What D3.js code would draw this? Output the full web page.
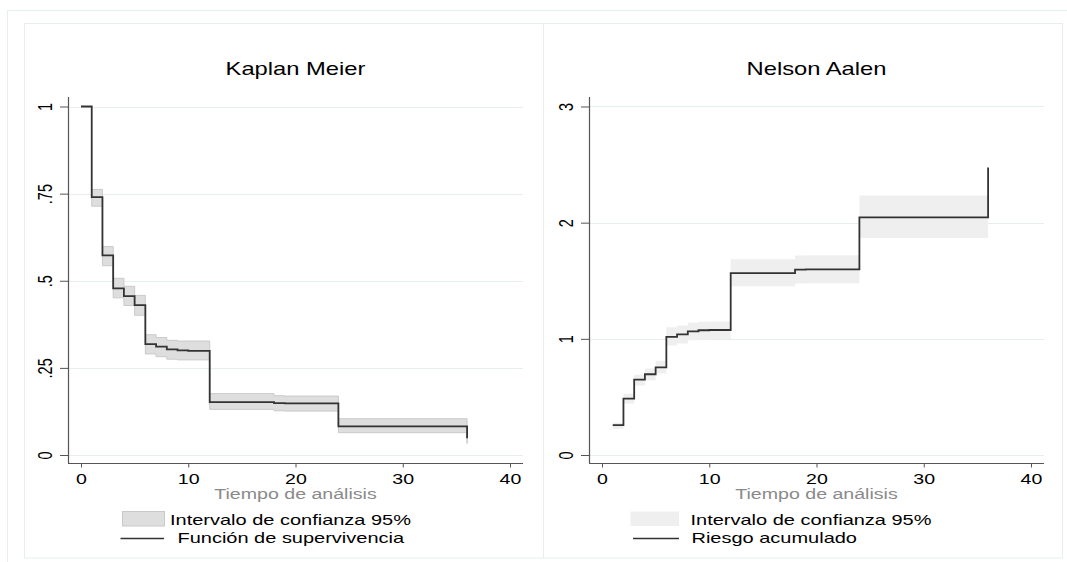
<!DOCTYPE html>
<html><head><meta charset="utf-8">
<script src="https://cdn.jsdelivr.net/npm/d3@7"></script>
<style>html,body{margin:0;padding:0;background:#fff;}svg{display:block;font-family:"Liberation Sans",Arial,sans-serif;}</style>
</head><body>
<script>
// ---- Kaplan-Meier data ----
const kmTimes = [0, 1, 2, 3, 4, 5, 6, 7, 8, 9, 10, 12, 18, 19, 24, 36];
const kmSurv  = [1, 0.740, 0.573, 0.478, 0.456, 0.430, 0.318, 0.311, 0.303, 0.300, 0.299, 0.152, 0.149, 0.148, 0.082, 0.048];
const kmLo    = [null, 0.714, 0.543, 0.451, 0.429, 0.401, 0.290, 0.282, 0.275, 0.273, 0.273, 0.131, 0.127, 0.126, 0.064, 0.033];
const kmHi    = [null, 0.762, 0.598, 0.507, 0.484, 0.458, 0.345, 0.337, 0.329, 0.327, 0.327, 0.176, 0.170, 0.169, 0.104, 0.070];
const kmYTicks = [0, 0.25, 0.5, 0.75, 1];
const kmYLabels = ["0", ".25", ".5", ".75", "1"];

// ---- Nelson-Aalen data ----
const naTimes = [1, 2, 3, 4, 5, 6, 7, 8, 9, 10, 12, 18, 19, 24, 36];
const naHaz   = [0.258, 0.485, 0.649, 0.695, 0.755, 1.016, 1.039, 1.065, 1.074, 1.076, 1.565, 1.596, 1.598, 2.045, 2.475];
const naLo    = [0.225, 0.444, 0.598, 0.644, 0.701, 0.942, 0.960, 0.988, 0.994, 0.996, 1.453, 1.477, 1.478, 1.867, 2.200];
const naHi    = [0.278, 0.528, 0.691, 0.745, 0.812, 1.100, 1.114, 1.139, 1.148, 1.150, 1.684, 1.718, 1.719, 2.234, 2.790];
const naYTicks = [0, 1, 2, 3];
const naYLabels = ["0", "1", "2", "3"];

const xTicks = [0, 10, 20, 30, 40];
const xTitle = "Tiempo de análisis";
const titles = ["Kaplan Meier", "Nelson Aalen"];
const legendCI = "Intervalo de confianza 95%";
const legendLines = ["Función de supervivencia", "Riesgo acumulado"];

const W = 1067, H = 562, SX = 1.35;
const svg = d3.select("body").append("svg").attr("width", W).attr("height", H);

// frames
svg.append("rect").attr("x", 7.5).attr("y", 10.5).attr("width", 1070).attr("height", 560)
  .attr("fill", "none").attr("stroke", "#e7eeef");
svg.append("rect").attr("x", 24.5).attr("y", 23.5).attr("width", 519).attr("height", 534.5)
  .attr("fill", "none").attr("stroke", "#e7eeef");
svg.append("rect").attr("x", 543.5).attr("y", 23.5).attr("width", 519).attr("height", 534.5)
  .attr("fill", "none").attr("stroke", "#e7eeef");

function stretchText(g, x, y, str, size, opts = {}) {
  return g.append("text")
    .attr("transform", `translate(${x},${y}) scale(${SX},1)` + (opts.rotate ? ` rotate(${opts.rotate})` : ""))
    .attr("text-anchor", opts.anchor || "middle")
    .attr("font-size", size)
    .attr("fill", opts.fill || "#000")
    .text(str);
}

function panel(cfg) {
  const g = svg.append("g");
  const x = d3.scaleLinear().domain([0, 40]).range([cfg.x0, cfg.x0 + 429]);
  const y = d3.scaleLinear().domain([0, cfg.yMax]).range([455, 106.5]);
  const axL = cfg.x0 - 13, axR = cfg.x0 + 442, axB = 463, axT = 97;

  // gridlines
  g.selectAll("line.grid").data(cfg.yTicks).join("line")
    .attr("x1", axL).attr("x2", axR)
    .attr("y1", d => Math.round(y(d)) + 0.5).attr("y2", d => Math.round(y(d)) + 0.5)
    .attr("stroke", "#e6eeef").attr("stroke-width", 1);

  // CI band
  const ciData = cfg.times.map((t, i) => ({t, lo: cfg.lo[i], hi: cfg.hi[i]})).filter(d => d.lo != null);
  g.append("path").datum(ciData)
    .attr("d", d3.area().curve(d3.curveStepAfter).x(d => x(d.t)).y0(d => y(d.lo)).y1(d => y(d.hi)))
    .attr("fill", cfg.ciFill).attr("stroke", cfg.ciStroke).attr("stroke-width", 1);

  // step line
  const lineData = cfg.times.map((t, i) => ({t, v: cfg.vals[i]}));
  g.append("path").datum(lineData)
    .attr("d", d3.line().curve(d3.curveStepAfter).x(d => x(d.t)).y(d => y(d.v)))
    .attr("fill", "none").attr("stroke", "#333").attr("stroke-width", 1.8);

  // y axis
  const ya = g.append("g").attr("transform", `translate(${axL},0)`)
    .call(d3.axisLeft(y).tickValues(cfg.yTicks).tickSize(8).tickSizeOuter(0).tickFormat((d, i) => cfg.yLabels[i]));
  ya.select(".domain").remove();
  ya.selectAll(".tick line").attr("stroke", "#555");
  ya.selectAll(".tick text").attr("x", null).attr("dy", null).attr("y", null)
    .attr("transform", `translate(-16,0) scale(${SX},1) rotate(-90)`)
    .attr("text-anchor", "middle").attr("font-size", 14.5).attr("fill", "#000")
    .attr("font-family", "Liberation Sans, Arial, sans-serif");
  g.append("line").attr("x1", axL + 0.5).attr("x2", axL + 0.5).attr("y1", axT).attr("y2", axB)
    .attr("stroke", "#555").attr("stroke-width", 1.2);

  // x axis
  const xa = g.append("g").attr("transform", `translate(0,${axB})`)
    .call(d3.axisBottom(x).tickValues(xTicks).tickSize(4.5).tickSizeOuter(0));
  xa.select(".domain").remove();
  xa.selectAll(".tick line").attr("stroke", "#555");
  xa.selectAll(".tick text").attr("x", null).attr("dy", null).attr("y", null)
    .attr("transform", `translate(0,21) scale(${SX},1)`)
    .attr("text-anchor", "middle").attr("font-size", 14.5).attr("fill", "#000")
    .attr("font-family", "Liberation Sans, Arial, sans-serif");
  g.append("line").attr("x1", axL).attr("x2", axR).attr("y1", axB + 0.5).attr("y2", axB + 0.5)
    .attr("stroke", "#555").attr("stroke-width", 1.2);

  // titles
  const cx = (x(0) + x(40)) / 2;
  stretchText(g, cx, 74.5, cfg.title, 17.6);
  stretchText(g, cx, 499, xTitle, 14.5, {fill: "#8a8a8a"});

  // legend
  const lg = cfg.legend;
  g.append("rect").attr("x", lg.boxX).attr("y", 511.5).attr("width", lg.boxW).attr("height", 14.5)
    .attr("fill", cfg.ciFill).attr("stroke", cfg.ciStroke === "none" ? "none" : cfg.ciStroke);
  stretchText(g, lg.t1X, 524.5, legendCI, 14.8, {anchor: "start"});
  g.append("line").attr("x1", lg.lineX).attr("x2", lg.lineX2).attr("y1", 538.5).attr("y2", 538.5)
    .attr("stroke", "#333").attr("stroke-width", 1.5);
  stretchText(g, lg.t2X, 543, cfg.legendLine, 14.8, {anchor: "start"});
}

panel({
  x0: 81, yMax: 1, yTicks: kmYTicks, yLabels: kmYLabels,
  times: kmTimes, vals: kmSurv, lo: kmLo, hi: kmHi,
  ciFill: "#dedede", ciStroke: "#c9c9c9",
  title: titles[0], legendLine: legendLines[0],
  legend: {boxX: 122.5, boxW: 42, t1X: 170, lineX: 120.5, lineX2: 164, t2X: 177.5}
});
panel({
  x0: 602, yMax: 3 * 0.99999, yTicks: naYTicks, yLabels: naYLabels,
  times: naTimes, vals: naHaz, lo: naLo, hi: naHi,
  ciFill: "#efefef", ciStroke: "none",
  title: titles[1], legendLine: legendLines[1],
  legend: {boxX: 630.5, boxW: 48.5, t1X: 690.5, lineX: 633, lineX2: 679, t2X: 691.5}
});
</script>
</body></html>
